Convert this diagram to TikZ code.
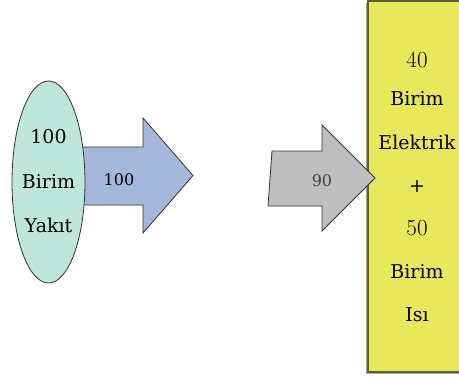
\documentclass[tikz,border=0pt]{standalone}
\usepackage{fontspec}
\usetikzlibrary{shapes.geometric}
\newfontfamily\dvs{DejaVu Serif}
\newcommand{\osnum}[1]{{\rmfamily\fontsize{23}{26}\selectfont\addfontfeatures{Numbers=OldStyle}#1}}
\definecolor{mint}{HTML}{BFE6DA}
\definecolor{steel}{HTML}{A5B7DB}
\definecolor{ash}{HTML}{BEBEBE}
\definecolor{lemon}{HTML}{E8E85C}
\definecolor{olive}{HTML}{5E5E34}
\tikzset{
  big/.style={font=\dvs\fontsize{19}{22}\selectfont, text=black, inner sep=0pt},
  small/.style={font=\dvs\fontsize{16}{18}\selectfont, inner sep=0pt},
  shape outline/.style={draw=black!80, line width=0.8pt, line join=miter},
}
\begin{document}
\begin{tikzpicture}[x=1pt, y=-1pt]
  \useasboundingbox (0,0) rectangle (459,381);
  \clip (0,0) rectangle (459,381);
  \fill[white] (0,0) rectangle (459,381);

  % output box with its shadow
  \fill[black!35] (366,3) rectangle (470,374);
  \draw[olive, line width=1.4pt, fill=lemon] (368,1) rectangle (470,372);
  \node[big] (l1) at (417,60) {\osnum{40}};
  \node[big] (l2) at (417,99) {Birim};
  \node[big] (l3) at (417,142) {Elektrik};
  \node[big] (l4) at (417,187) {+};
  \node[big] (l5) at (417,228) {\osnum{50}};
  \node[big] (l6) at (417,272) {Birim};
  \node[big] (l7) at (417,315) {Isı};

  % input arrow
  \draw[shape outline, fill=steel]
    (60,147) -- (143,147) -- (143,118) -- (193,175.5) -- (143,233)
    -- (143,205) -- (60,205) -- cycle;
  \node[small] (inval) at (119,180) {100};

  % fuel source
  \node[ellipse, draw=black!80, line width=0.8pt, fill=mint,
        minimum width=73pt, minimum height=202pt, inner sep=0pt]
        (fuel) at (48.5,182) {};
  \node[big] (f1) at (48.5,137) {100};
  \node[big] (f2) at (48.5,182) {Birim};
  \node[big] (f3) at (48.5,225) {Yakıt};

  % output arrow
  \draw[shape outline, fill=ash]
    (272,151) -- (322,151) -- (322,125) -- (375,178) -- (322,231)
    -- (322,206) -- (268,206) -- cycle;
  \node[small, text=black!75] (outval) at (322,181) {90};
\end{tikzpicture}
\end{document}
